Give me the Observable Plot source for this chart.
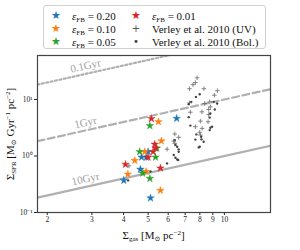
<!DOCTYPE html>
<html><head><meta charset="utf-8">
<script src="https://cdn.jsdelivr.net/npm/d3@7"></script>
<script src="https://cdn.jsdelivr.net/npm/@observablehq/plot@0.6"></script>
<style>
body{margin:0;background:#fff;font-family:"Liberation Serif","DejaVu Serif",serif;}
#wrap{position:relative;width:300px;height:250px;overflow:hidden;}
#legend{position:absolute;left:43px;top:5px;width:221px;height:42px;border:1px solid #d0d0d0;border-radius:3px;background:#fff;font-size:11px;color:#111;}
.it{position:absolute;white-space:nowrap;line-height:12px;}
.mk{position:absolute;font-family:"DejaVu Sans",sans-serif;line-height:12px;text-align:center;width:14px;}
sub{font-size:7px;vertical-align:-2px;}
sup{font-size:7px;vertical-align:4px;}
.ax{position:absolute;font-size:11px;white-space:nowrap;color:#111;line-height:12px;}
</style></head><body><div id="wrap"></div><script>
const xTicks = [2,3,4,5,6,7,8,9,10];
const yTicks = [0.1,1,10];
const yTickLabels = ["10\u207B\u00B9","10\u2070","10\u00B9"];
const timescales = [0.1,1,10];
const timescaleLabels = ["0.1Gyr","1Gyr","10Gyr"];
const timescaleDash = ["2,2.5","7,3.5",null];
const labelGas = 2.83;
const xDomain = [1.83,15.2];
const yDomain = [0.1,60];

// simulations (Σgas, ΣSFR)
const eps020 = [[6.48,4.62],[5.00,1.19],[4.71,0.95],[4.92,0.95],[4.66,0.58],[4.01,0.37],[5.11,0.18]];
const eps010 = [[5.49,4.03],[5.64,1.84],[4.85,1.19],[4.43,0.83],[4.16,0.475],[4.91,0.53],[5.59,0.246]];
const eps005 = [[5.08,3.42],[5.41,1.37],[4.63,1.19],[5.35,0.95],[4.76,0.495],[5.08,0.40]];
const eps001 = [[5.15,4.58],[5.31,1.61],[5.35,1.38],[5.23,1.19],[5.00,0.95],[4.07,0.71],[5.59,0.61]];
// Verley et al. 2010
const verleyUV = [[7.80,24.2],[7.68,19.9],[7.52,18.3],[7.28,15.5],[8.30,15.5],[9.38,14.3],[9.13,11.9],
 [8.75,9.1],[8.36,8.5],[7.28,8.7],[8.80,7.41],[7.34,5.95],[8.15,6.04],[8.67,6.66],[8.67,5.4],
 [8.04,4.14],[8.62,4.03],[7.68,3.29],[8.17,3.08],[7.99,2.62],[8.04,2.35],[6.37,2.45],[6.60,2.14],
 [6.31,1.84],[6.37,1.68],[5.94,1.32],[4.20,0.67]];
const verleyBol = [[7.99,12.4],[7.72,11.1],[7.40,9.07],[7.23,8.26],[9.36,8.5],[9.07,9.07],[8.75,4.78],
 [8.80,5.66],[9.16,6.66],[7.23,4.87],[7.34,3.45],[8.80,3.16],[8.94,3.29],[8.75,2.87],[7.75,2.41],
 [8.10,2.19],[7.68,1.95],[8.12,1.97],[8.28,1.79],[7.99,1.46],[7.92,1.42],[6.37,1.91],[6.51,1.46],
 [6.60,1.31],[6.60,1.19],[6.31,1.04],[6.41,0.93],[6.51,0.87],[6.57,0.85],[5.94,0.74],[5.11,0.53],
 [4.17,0.37],[6.41,1.56]];

const series = [
 {name:"0.20", color:"#1f77b4", data:eps020},
 {name:"0.10", color:"#ff7f0e", data:eps010},
 {name:"0.05", color:"#2ca02c", data:eps005},
 {name:"0.01", color:"#d62728", data:eps001}
];

const lineMarks = timescales.map((t,i)=>Plot.line(xDomain.map(g=>({g, s:g/t})), {
  x:"g", y:"s", stroke:"#b0b0b0", strokeWidth:2.2, strokeDasharray:timescaleDash[i], clip:true
}));
const labelData = timescales.map((t,i)=>({g:labelGas, s:labelGas/t, text:timescaleLabels[i]}));

const chart = Plot.plot({
  width:300, height:250,
  marginLeft:37, marginRight:30, marginTop:55, marginBottom:38,
  style:{fontFamily:"Liberation Serif, serif", fontSize:"7.5px", background:"white", color:"#222"},
  x:{type:"log", domain:xDomain, ticks:xTicks, tickFormat:d=>String(d), label:null, tickSize:3, tickPadding:1},
  y:{type:"log", domain:yDomain, ticks:yTicks, tickFormat:d=>yTickLabels[yTicks.indexOf(d)], label:null, tickSize:3, tickPadding:2},
  marks:[
    ...lineMarks,
    Plot.text(labelData, {x:"g", y:"s", text:"text", dy:-8, rotate:-12.4, fill:"#a0a0a0", fontSize:11, fontFamily:"Liberation Serif, serif"}),
    Plot.dot(verleyUV, {x:d=>d[0], y:d=>d[1], symbol:"plus", r:1.6, stroke:"#6a6a6a", strokeWidth:0.8, clip:true}),
    Plot.dot(verleyBol, {x:d=>d[0], y:d=>d[1], r:1.2, fill:"#444", stroke:null, clip:true}),
    ...series.map(s=>Plot.dot(s.data, {x:d=>d[0], y:d=>d[1], symbol:"star", r:2.4, fill:s.color, stroke:s.color, strokeWidth:0.4, clip:true})),
    Plot.frame({stroke:"#444", strokeWidth:1.2})
  ]
});
const wrap = document.getElementById("wrap");
wrap.appendChild(chart);

// legend
const leg = document.createElement("div");
leg.id = "legend";
const rows = [3, 16, 29];
const col1 = series.slice(0,3).map((s,i)=>({mk:"★", color:s.color, html:`<i>ε</i><sub>FB</sub> = ${s.name}`, row:i, col:0}));
const col2 = [
  {mk:"★", color:series[3].color, html:`<i>ε</i><sub>FB</sub> = ${series[3].name}`, row:0, col:1},
  {mk:"+", color:"#555", html:"Verley et al. 2010 (UV)", row:1, col:1},
  {mk:"•", color:"#444", html:"Verley et al. 2010 (Bol.)", row:2, col:1}
];
[...col1, ...col2].forEach(it=>{
  const mx = it.col===0 ? 5 : 85;
  const tx = it.col===0 ? 28 : 108;
  const m = document.createElement("div");
  m.className="mk"; m.style.left=mx+"px"; m.style.top=(rows[it.row]+1)+"px"; m.style.color=it.color;
  m.style.fontSize = it.mk==="★" ? "11px" : "10px";
  m.textContent = it.mk;
  leg.appendChild(m);
  const t = document.createElement("div");
  t.className="it"; t.style.left=tx+"px"; t.style.top=(rows[it.row]+1)+"px";
  t.innerHTML = it.html;
  leg.appendChild(t);
});
wrap.appendChild(leg);

// axis labels
const xl = document.createElement("div");
xl.className="ax";
xl.innerHTML = "Σ<sub>gas</sub> [M<sub>⊙</sub> pc<sup>−2</sup>]";
wrap.appendChild(xl);
xl.style.left = (153.5 - xl.offsetWidth/2)+"px";
xl.style.top = "227px";
const yl = document.createElement("div");
yl.className="ax";
yl.innerHTML = "Σ<sub>SFR</sub> [M<sub>⊙</sub> Gyr<sup>−1</sup> pc<sup>−2</sup>]";
wrap.appendChild(yl);
const w = yl.offsetWidth, h = yl.offsetHeight;
yl.style.left = (11 - w/2)+"px";
yl.style.top = (134 - h/2)+"px";
yl.style.transform = "rotate(-90deg)";
</script></body></html>
